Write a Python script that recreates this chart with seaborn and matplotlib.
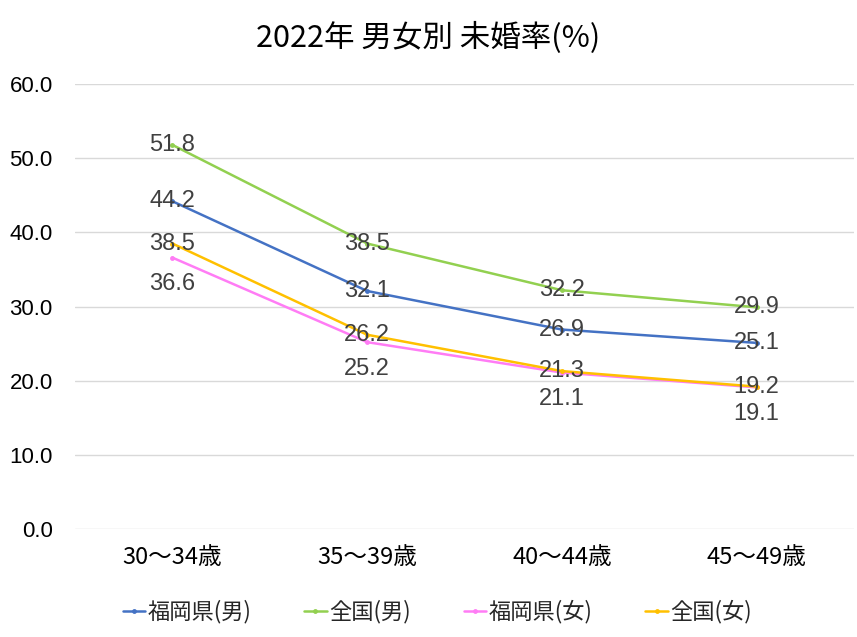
import pandas as pd
import matplotlib
matplotlib.use('Agg')
import matplotlib.pyplot as plt
import seaborn as sns

# data
age_groups = ['30～34歳', '35～39歳', '40～44歳', '45～49歳']
series_names = ['福岡県(男)', '全国(男)', '福岡県(女)', '全国(女)']
fukuoka_male = [44.2, 32.1, 26.9, 25.1]
japan_male = [51.8, 38.5, 32.2, 29.9]
fukuoka_female = [36.6, 25.2, 21.1, 19.1]
japan_female = [38.5, 26.2, 21.3, 19.2]
colors = ['#4472C4', '#92D050', '#FF7CF5', '#FFC000']
y_ticks = [0, 10, 20, 30, 40, 50, 60]

values = [fukuoka_male, japan_male, fukuoka_female, japan_female]
rows = []
for name, vals in zip(series_names, values):
    for i, v in enumerate(vals):
        rows.append({'pos': i, 'age': age_groups[i], 'series': name, 'rate': v})
df = pd.DataFrame(rows)

sns.set_theme(style='white')
plt.rcParams['font.family'] = ['Noto Sans CJK JP', 'DejaVu Sans']
num_font = ['Liberation Sans', 'DejaVu Sans']

fig = plt.figure(figsize=(8.57, 6.37), dpi=100)
ax = fig.add_axes([0.0875, 0.1695, 0.909, 0.6985])

sns.lineplot(data=df, x='pos', y='rate', hue='series', hue_order=series_names,
             palette=colors, marker='o', markersize=3.5, markeredgewidth=0,
             linewidth=1.8, ax=ax, legend=True)

# data labels: Fukuoka female sits below its points, the rest on them
for name, vals in zip(series_names, values):
    offset = -19 if name == '福岡県(女)' else 0
    for i, v in enumerate(vals):
        ax.annotate(f'{v:.1f}', (i, v), xytext=(0, offset), textcoords='offset points',
                    ha='center', va='center', fontsize=17, color='#404040',
                    family=num_font)

ax.set_xlim(-0.5, 3.5)
ax.set_ylim(0, 60)
ax.set_yticks(y_ticks)
ax.set_yticklabels([f'{t:.1f}' for t in y_ticks], fontsize=16, color='black',
                   family=num_font)
ax.set_xticks(range(len(age_groups)))
ax.set_xticklabels(age_groups, fontsize=17, color='black')
ax.tick_params(axis='x', pad=12, length=0)
ax.tick_params(axis='y', pad=16, length=0)
ax.yaxis.grid(True, color='#D9D9D9', linewidth=1)
ax.set_axisbelow(True)
for s in ax.spines.values():
    s.set_visible(False)
ax.set_xlabel('')
ax.set_ylabel('')

handles, labels = ax.get_legend_handles_labels()
ax.legend(handles, labels, loc='center', bbox_to_anchor=(0.51, 0.04),
          bbox_transform=fig.transFigure, ncol=4, frameon=False, fontsize=16,
          handlelength=1.0, handletextpad=0.1, columnspacing=2.4)

fig.suptitle('2022年 男女別 未婚率(%)', x=0.5, y=0.965, fontsize=22, color='black')

fig.savefig('out.png', dpi=100)
